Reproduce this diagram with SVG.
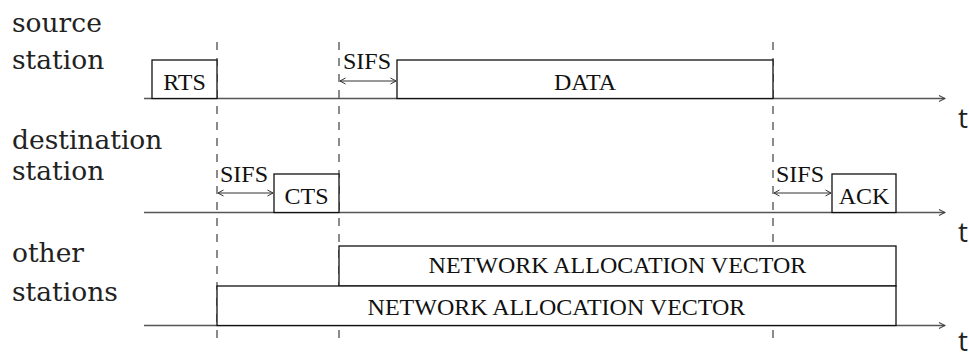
<svg xmlns="http://www.w3.org/2000/svg" width="969" height="356" viewBox="0 0 969 356">
<style>
.lbl{font-family:"DejaVu Serif",serif;font-size:26.5px;fill:#222}
.bx{fill:#fff;stroke:#111;stroke-width:1.3}
.bt{font-family:"Liberation Serif",serif;font-size:24px;fill:#111;text-anchor:middle}
.st{font-family:"Liberation Serif",serif;font-size:24px;fill:#111}
.tt{font-family:"Open Sans","Liberation Sans",sans-serif;font-size:28px;fill:#222}
.axis{stroke:#555;stroke-width:1.5;fill:none}
.dash{stroke:#666;stroke-width:1.5;stroke-dasharray:8 8;fill:none}
.sifs{stroke:#333;stroke-width:1;fill:none}
</style>
<defs>
<marker id="ah" viewBox="0 0 8 8" refX="7" refY="4" markerWidth="8" markerHeight="8" markerUnits="userSpaceOnUse" orient="auto">
<path d="M1,1 L7,4 L1,7" fill="none" stroke="#444" stroke-width="1.1"/>
</marker>
<marker id="sh" viewBox="0 0 8 8" refX="7.5" refY="4" markerWidth="8" markerHeight="8" markerUnits="userSpaceOnUse" orient="auto-start-reverse">
<path d="M2,1 L7.5,4 L2,7" fill="none" stroke="#333" stroke-width="1"/>
</marker>
</defs>

<g id="labels">
<text class="lbl" x="12" y="32">source</text>
<text class="lbl" x="12" y="69">station</text>
<text class="lbl" x="12" y="149">destination</text>
<text class="lbl" x="12" y="180">station</text>
<text class="lbl" x="12" y="262">other</text>
<text class="lbl" x="12" y="301">stations</text>
<text class="tt" x="958" y="128">t</text>
<text class="tt" x="958" y="242">t</text>
<text class="tt" x="958" y="351">t</text>
</g>

<g id="connectors">
<line class="dash" x1="217" y1="42" x2="217" y2="338"/>
<line class="dash" x1="339" y1="42" x2="339" y2="338"/>
<line class="dash" x1="773" y1="42" x2="773" y2="338"/>
<line class="axis" x1="144" y1="98.5" x2="945" y2="98.5" marker-end="url(#ah)"/>
<line class="axis" x1="144" y1="212.5" x2="945" y2="212.5" marker-end="url(#ah)"/>
<line class="axis" x1="144" y1="325.5" x2="945" y2="325.5" marker-end="url(#ah)"/>
<line class="sifs" x1="340" y1="81" x2="396" y2="81" marker-start="url(#sh)" marker-end="url(#sh)"/>
<line class="sifs" x1="218" y1="193" x2="273" y2="193" marker-start="url(#sh)" marker-end="url(#sh)"/>
<line class="sifs" x1="774" y1="193" x2="831" y2="193" marker-start="url(#sh)" marker-end="url(#sh)"/>
</g>

<g id="rts">
<rect class="bx" x="152" y="60" width="65" height="38.5"/>
<text class="bt" x="184.5" y="90">RTS</text>
</g>
<g id="sifs1"><text class="st" x="343" y="69">SIFS</text></g>
<g id="data">
<rect class="bx" x="397" y="60" width="376" height="38.5"/>
<text class="bt" x="585" y="90">DATA</text>
</g>
<g id="sifs2"><text class="st" x="220" y="182">SIFS</text></g>
<g id="cts">
<rect class="bx" x="274" y="174" width="65" height="38.5"/>
<text class="bt" x="306.5" y="204">CTS</text>
</g>
<g id="sifs3"><text class="st" x="776" y="182">SIFS</text></g>
<g id="ack">
<rect class="bx" x="832" y="174" width="64" height="38.5"/>
<text class="bt" x="864" y="204">ACK</text>
</g>
<g id="nav1">
<rect class="bx" x="339" y="246" width="557" height="40"/>
<text class="bt" x="617.5" y="273">NETWORK ALLOCATION VECTOR</text>
</g>
<g id="nav2">
<rect class="bx" x="217" y="286" width="679" height="39.5"/>
<text class="bt" x="556.5" y="315">NETWORK ALLOCATION VECTOR</text>
</g>
</svg>
